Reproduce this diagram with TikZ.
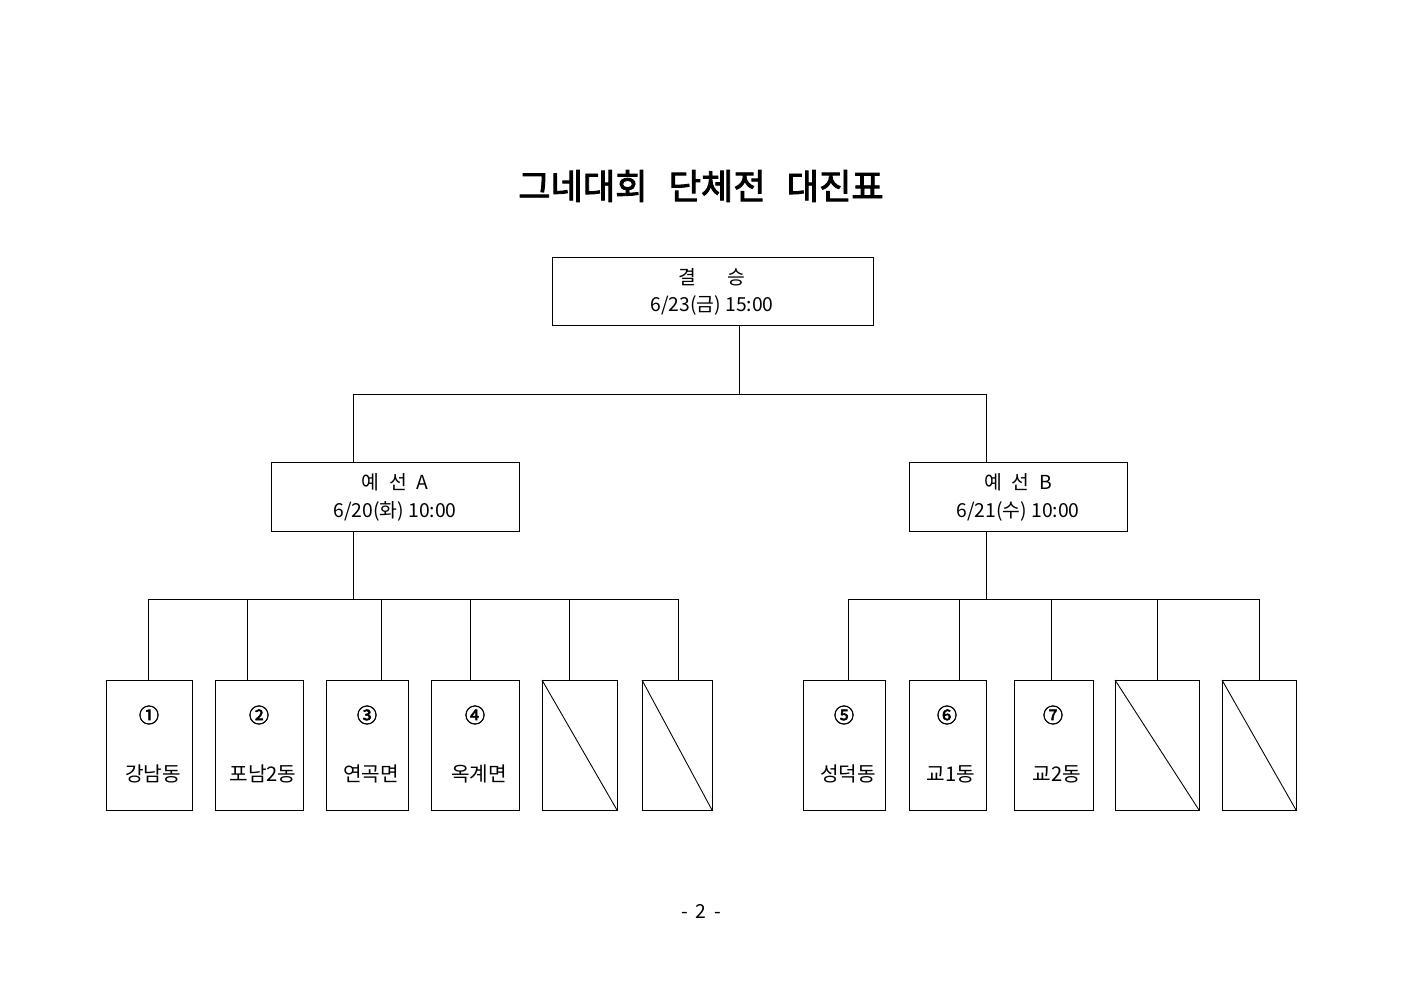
\documentclass[tikz,border=0pt]{standalone}
\usepackage{fontspec}
\setmainfont{Noto Sans CJK KR}
\newfontfamily\titlefont[FakeBold=2.5]{Noto Sans CJK KR}
\begin{document}
\begin{tikzpicture}[x=0.02cm,y=-0.02cm,
  wire/.style={line width=0.5pt},
  lbl/.style={font=\fontsize{11}{12}\selectfont},
  nm/.style={font=\fontsize{11.5}{13}\selectfont}]
\useasboundingbox (0,0) rectangle (1403,992);
% title
\node (title) at (701,186) {\titlefont\fontsize{20}{24}\selectfont 그네대회\hspace{0.6em}단체전\hspace{0.6em}대진표};
% final
\draw[wire] (552,257) rectangle (873,325);
\node[lbl] (fin1) at (712,277) {결\hspace{1.6em}승};
\node[lbl] (fin2) at (712,305) {6/23(금) 15:00};
\coordinate (finb) at (739,325);
\coordinate (j0) at (739,394);
\coordinate (jl) at (353,394);
\coordinate (jr) at (986,394);
\draw[wire] (finb) -- (j0);
\draw[wire] (jl) -- (jr);
\draw[wire] (jl) -- (353,462);
\draw[wire] (jr) -- (986,462);
% A
\draw[wire] (271,462) rectangle (519,531);
\node[lbl] (a1) at (395,482) {예\hspace{0.5em}선\hspace{0.5em}A};
\node[lbl] (a2) at (395,511) {6/20(화) 10:00};
% B
\draw[wire] (909,462) rectangle (1127,531);
\node[lbl] (b1) at (1018,482) {예\hspace{0.5em}선\hspace{0.5em}B};
\node[lbl] (b2) at (1018,511) {6/21(수) 10:00};
% A branch
\draw[wire] (353,531) -- (353,599);
\draw[wire] (148,599) -- (678,599);
\draw[wire] (848,599) -- (1259,599);
\draw[wire] (986,531) -- (986,599);
% leaves
\foreach \l/\r/\c in {106/192/148,215/303/247,326/408/381,431/519/470,542/617/569,642/712/678,803/885/848,909/986/959,1014/1093/1051,1115/1199/1157,1222/1296/1259}{
  \draw[wire] (\l,680) rectangle (\r,810);
  \draw[wire] (\c,599) -- (\c,680);
}
\foreach \l/\r in {542/617,642/712,1115/1199,1222/1296}{
  \draw[wire] (\l,680) -- (\r,810);
}
\foreach \x/\n/\s in {149/①/강남동,259/②/포남2동,367/③/연곡면,475/④/옥계면,844/⑤/성덕동,947/⑥/교1동,1053/⑦/교2동}{
  \node[nm,font=\fontsize{11.5}{13}\selectfont\titlefont] at (\x,715) {\n};
  \node[nm] at (\x+4,774) {\s};
}
\node[lbl] (page) at (701,911) {-\hspace{0.4em}2\hspace{0.4em}-};
\end{tikzpicture}
\end{document}
